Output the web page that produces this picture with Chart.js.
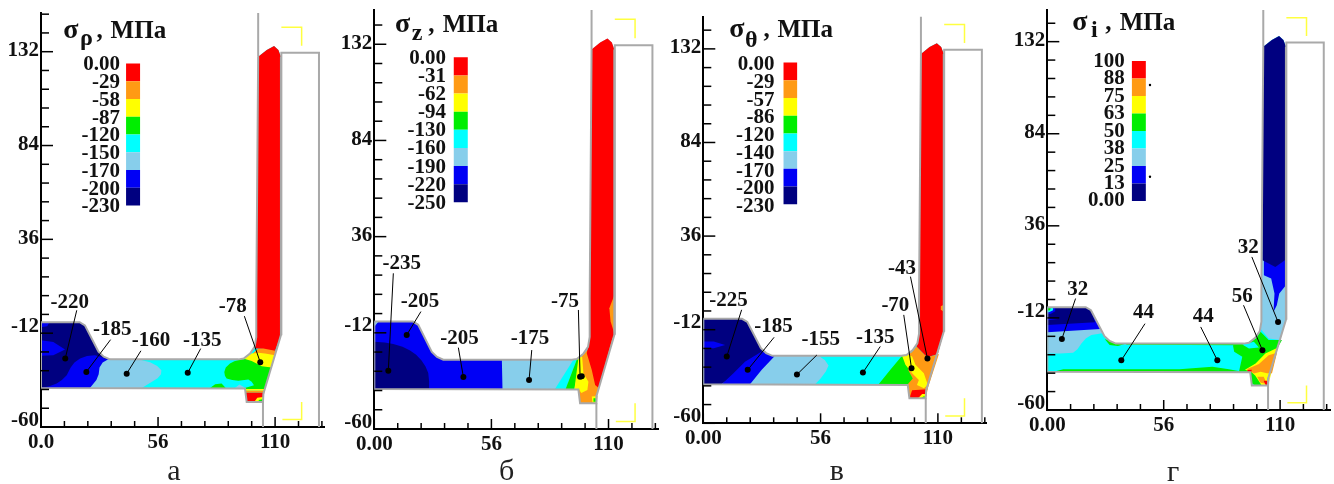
<!DOCTYPE html>
<html><head><meta charset="utf-8">
<script src="https://cdn.jsdelivr.net/npm/chart.js@4"></script>
<style>html,body{margin:0;background:#fff;width:1334px;height:484px;overflow:hidden}canvas{position:absolute;top:0}</style>
</head><body>
<canvas id="a"></canvas><canvas id="b"></canvas><canvas id="c"></canvas><canvas id="d"></canvas>
<script>
const RED='#ff0000',ORG='#ff9a14',YEL='#ffff00',GRN='#00ee00',CYN='#00ffff',LBL='#87ceeb',BLU='#0000f5',NVY='#000080',GRY='#a9a9a9',BRK='#ffff40';
const barColors=[RED,ORG,YEL,GRN,CYN,LBL,BLU,NVY];

const xTickVals=[0,11.2,22.4,33.6,44.8,56,67.2,78.4,89.6,100.8,112,123.2,134.4];
const xMajor=[0,56,112];
const yTickVals=[-60,-50.4,-40.8,-31.2,-21.6,-12,-2.4,7.2,16.8,26.4,36,45.6,55.2,64.8,74.4,84,93.6,103.2,112.8,122.4,132,141.6,151.2];
const yMajor=[-60,-12,36,84,132];

// shared geometry of the part, die and punch (data units)
const outline=[[0,-6.4],[18.5,-6.4],[21,-8],[27.5,-21.5],[30,-24],[33,-25.4],[94.5,-25.4],[97,-25],[100,-22.4],[102.2,-19],[103,-14],[103,5],[103.9,129.4],[108,132.9],[111.5,134.9],[113.6,132.9],[114.8,129.4],[114.8,-13],[106.4,-43],[106.2,-47.2],[98.4,-47.2],[97.6,-40.3],[0,-40],[0,-6.4]];
const outlineOpen=[...outline.slice(16),...outline.slice(1,13)];
const die=[[115,-13],[115,131.5],[133,131.5],[133,-60]];
const lineTop=[[103.9,129.4],[103.9,152]];
const lineLow=[[106.2,-47.2],[106.2,-60]];
const bracketTop=[[115,144.5],[124.7,144.5],[124.7,135]];
const bracketLow=[[124.7,-47.2],[124.7,-56.2],[115.5,-56.2]];
const leftTop=[[0,-6.4],[18.5,-6.4],[21,-8],[27.5,-21.5],[30,-24],[33,-25.4]];
const wall=[[114.8,-13],[114.8,129.4],[113.6,132.9],[111.5,134.9],[108,132.9],[103.9,129.4],[103,5],[103,-14],[102.2,-19]];

// ---- panel a
const labelsA=['0.00','-29','-58','-87','-120','-150','-170','-200','-230'];
const regionsA=[
[CYN,outline],
[LBL,[...leftTop,[42.6,-25.4],[48,-25.7],[52.2,-26.9],[55.6,-28.8],[57.6,-31],[57.4,-33],[55.8,-35],[52.5,-37.2],[48.2,-40],[0,-40]]],
[BLU,[...leftTop,[32.2,-25.4],[29.5,-27],[28,-29.5],[27.6,-33],[26.5,-36],[23.4,-40],[0,-40]]],
[NVY,[...leftTop,[30.6,-25],[28.5,-24],[25.8,-23.3],[22,-23.7],[18.7,-25],[16,-27],[14.2,-29.5],[12.3,-33.5],[10,-36],[7.5,-37.8],[4,-39.2],[0,-40]]],
[BLU,[[0,-15.6],[5.9,-16.5],[11.5,-20.4],[5.9,-23.3],[0,-23.5]]],
[BLU,[[0,-6.4],[4,-6.4],[3,-8.5],[0,-9]]],
[GRN,[[96,-25.3],[92.5,-26.3],[90.4,-27.5],[88.4,-29.5],[87.7,-31.8],[88,-33.8],[88.8,-35.2],[91.5,-36],[94.4,-36.4],[99.2,-35.7],[100.8,-36.8],[101.9,-38.6],[97.6,-40],[98.4,-40.7],[107,-40.7],[112.4,-21.6]]],
[LBL,[[92.8,-40],[94.9,-38.3],[97.1,-39.5],[97.3,-40]]],
[GRN,[[80.9,-40],[83.3,-38.1],[86.4,-37.8],[88.4,-40]]],
[YEL,[[96.8,-25],[100.8,-22.4],[104.8,-21.2],[112.3,-21.2],[110.4,-29.6],[105.6,-28.9],[100.8,-26.2]]],
[ORG,[[101.3,-22.4],[104,-19.9],[108,-19.5],[112.4,-21],[112,-23.3],[107.2,-22.4],[104,-22]]],
[RED,[...wall,[102.7,-19.9],[106.4,-19.9],[112,-21]]],
[YEL,[[97.7,-40.5],[107.2,-40.5],[107,-41.4],[97.8,-41.4]]],
[ORG,[[97.8,-41.4],[107,-41.4],[106.8,-42.5],[97.9,-42.5]]],
[RED,[[98.4,-47.2],[97.9,-42.5],[106.8,-42.5],[106.2,-47.2]]],
[YEL,[[102,-47.2],[103.5,-45],[106.2,-44.6],[106.2,-47.2]]],
[GRN,[[103.5,-47.2],[104.5,-46],[106.2,-45.8],[106.2,-47.2]]]
];
const notesA=[['-220',13.7,3.5],['-185',34.1,-10],['-160',52.6,-16],['-135',77.2,-15.6],['-78',91.7,1.5]];
const leadersA=[[17.1,-0.3,11.6,-25],[33.3,-15.3,21.7,-31.8],[47.8,-21,41,-32.7],[76.4,-19.9,70.2,-32.3],[97.3,-3.3,104.9,-26.9]];

// ---- panel b
const labelsB=['0.00','-31','-62','-94','-130','-160','-190','-220','-250'];
const regionsB=[
[LBL,outline],
[BLU,[...leftTop,[61,-25.4],[61.3,-40],[0,-40]]],
[NVY,[[0,-16.4],[5,-16.8],[9.1,-17.6],[13.5,-19],[17.1,-20.8],[20,-23],[22.6,-25.8],[24.5,-28.8],[25.8,-32],[26.2,-36],[26.2,-40],[0,-40]]],
[LBL,[[0,-6.4],[2,-6.4],[0,-9]]],
[CYN,[[95.2,-25.4],[86.4,-40],[91.5,-40],[96.8,-25.4]]],
[GRN,[[91.5,-40],[95.7,-40],[98.7,-24.7],[96.8,-25.4]]],
[ORG,[[99,-24],[101.6,-21],[114.8,-13],[106.4,-43],[106.2,-47.2],[98.4,-47.2],[97.7,-40]]],
[YEL,[[95.7,-40],[97.7,-24],[99.4,-23.9],[100,-32.2],[102.4,-36.4],[101.9,-40.5],[99,-42],[97.7,-40]]],
[YEL,[[104,-43.8],[106.7,-43.5],[106.3,-47.2],[104.3,-46.8]]],
[GRN,[[104.8,-44.7],[106,-44.7],[106,-46.4],[104.8,-46.4]]],
[RED,[...wall,[101.6,-22.2],[104,-30.5],[105.6,-38],[107.3,-39.5],[113.8,-15]]],
[ORG,[[114.8,6.9],[112.4,0.2],[113,-6.4],[114.8,-12.3]]]
];
const notesB=[['-235',13.1,22.7],['-205',21.9,3.5],['-205',40.7,-14.8],['-175',74.5,-14.8],['-75',91.2,3.5]];
const leadersB=[[9.1,17.7,6.7,-30.9],[22.3,-1.4,15.5,-13.1],[40.2,-19.4,42.6,-34.1],[75.3,-20.6,74,-35.6],[97.6,-0.6,98.4,-33.9],[98.4,-33.9,99.2,-33.7]];

// ---- panel c
const labelsC=['0.00','-29','-57','-86','-120','-140','-170','-200','-230'];
const regionsC=[
[CYN,outline],
[LBL,[...leftTop,[55,-25.4],[58,-27.5],[59.8,-30.4],[58.5,-33.5],[56,-37],[53.4,-40],[0,-40]]],
[NVY,[...leftTop,[28,-23.5],[8.8,-40],[0,-40]]],
[BLU,[[8.8,-40],[14.4,-34.3],[19.9,-28.4],[27.9,-23.2],[30,-24],[34,-25.6],[27.9,-32.6],[22.3,-40]]],
[BLU,[[0,-18.1],[5,-18],[10.4,-19.8],[5,-21.5],[0,-21.5]]],
[ORG,[[96.5,-25],[99.5,-23.6],[101.8,-20.6],[106.9,-26.1],[112.5,-24.4],[107.2,-42],[106.2,-47.2],[98.4,-47.2],[97.6,-40]]],
[GRN,[[94.9,-25.4],[89.3,-32.6],[83.7,-40],[97.6,-40],[100,-37],[98,-33],[96.8,-25.4]]],
[YEL,[[94.9,-25.3],[97.3,-24.6],[99.7,-25.8],[101.3,-30],[105.3,-34.3],[107.2,-40.3],[105.3,-42],[102,-40.3],[102.9,-37.8],[99.7,-34.3],[96.5,-30]]],
[RED,[...wall,[101.8,-20.6],[106.9,-26.1],[112,-24.4]]],
[ORG,[[114.8,0.8],[113.4,0],[113.4,-1.8],[114.8,-2.8]]],
[RED,[[98.4,-47.2],[99.7,-43],[106.9,-42.5],[106.2,-47.2]]],
[YEL,[[102.5,-47.2],[104.5,-45],[106.5,-45],[106.2,-47.2]]],
[GRN,[[104,-47.2],[105,-46.2],[106.3,-46.2],[106.2,-47.2]]]
];
const notesC=[['-225',12,2.8],['-185',33.5,-10.4],['-155',56.1,-17.2],['-135',82.1,-16],['-70',91.7,0.4],['-43',94.9,19.5]];
const leadersC=[[18.3,-1.8,11.2,-25.8],[33.8,-15.9,21.2,-32.6],[54.2,-25,44.7,-35],[84.5,-20.6,76.2,-34],[95.7,-4.4,99.4,-31.8],[98.9,15.2,107,-26.8]];

// ---- panel d
const labelsD=['100','88','75','63','50','38','25','13','0.00'];
const regionsD=[
[CYN,outline],
[LBL,[...leftTop.slice(0,5),[26.5,-20],[21.2,-20.9],[18.5,-22.7],[16.4,-25.3],[14.5,-28.3],[12.4,-30.1],[6,-30.5],[0,-30.5]]],
[BLU,[[0,-6.4],[18.5,-6.4],[21,-8],[25.5,-17.8],[0,-19.5]]],
[NVY,[[0,-6.4],[18.5,-6.4],[21,-8],[23,-14.3],[0,-15.7]]],
[BLU,[[0,-12],[6,-12.5],[0,-13.2]]],
[BLU,[[0,-6.4],[3.8,-6.4],[3.8,-8.5],[1.5,-10],[0,-10]]],
[CYN,[[0,-6.4],[2.8,-6.4],[2.8,-8],[0.8,-9],[0,-9]]],
[GRN,[[0,-6.6],[1.6,-6.6],[1.4,-8],[0,-8.2]]],
[GRN,[[2.9,-40],[7.7,-38.8],[39.5,-38.7],[63.5,-38.7],[79.4,-37.5],[87.4,-38.8],[93.8,-40]]],
[GRN,[[27.6,-23],[30,-26.1],[34,-26.7],[38,-25.4],[33,-25.4]]],
[GRN,[[38,-25.4],[95,-25.4],[95,-26.2],[38,-26]]],
[GRN,[[89.3,-26.2],[89.9,-29.6],[93.8,-32.2],[92.2,-40],[97.7,-40],[98.4,-47.2],[106.2,-47.2],[106.4,-43],[110.6,-27.9],[112.9,-23.5],[106.5,-23.5],[102.6,-19.2],[100.2,-22.7],[95.4,-25.4]]],
[CYN,[[93.8,-25.8],[99.4,-24.4],[101.8,-27.4],[97,-27.9]]],
[YEL,[[95.1,-39],[100.2,-35.7],[104.9,-30.5],[111,-27.4],[106.3,-47],[103,-47],[100,-42],[98,-40]]],
[ORG,[[96,-38.8],[101.8,-36],[106.5,-31.4],[110.5,-30.1],[108.1,-40.9],[105.7,-40.9],[102.6,-40],[99.4,-41]]],
[ORG,[[101,-42.7],[104.1,-42.7],[105.7,-46.5],[102.6,-45.8]]],
[RED,[[96.2,-39.2],[98.4,-39],[98,-40.4],[96.5,-40.4]]],
[RED,[[104.1,-44.8],[106.2,-44.8],[106.2,-47],[105,-47]]],
[GRN,[[98.4,-47.2],[98.2,-44],[100,-44],[103,-47.2]]],
[CYN,[[98.4,-47.2],[98.4,-46],[100,-47.2]]],
[LBL,[...wall,[102.9,-18],[106.5,-22.7],[112.1,-23.5]]],
[BLU,[[104.2,18.1],[104.2,10.3],[107.7,8.5],[109.3,0.7],[108.8,-8.9],[110.4,-5.4],[111.6,0.7],[114.8,5],[114.8,18.4]]],
[NVY,[[114.8,18.4],[114.8,129.4],[113.6,132.9],[111.5,134.9],[108,132.9],[103.9,129.4],[103.5,18.1],[109.7,14.6]]]
];
const notesD=[['32',14.7,2.8],['44',46.3,-9.4],['44',75,-11.5],['56',93.8,-0.7],['32',96.7,24.5]];
const leadersD=[[13.6,-1.9,7,-23],[47,-15,35.6,-34.1],[73.8,-16.7,81.8,-34.1],[94.4,-5.4,103.5,-28.9],[98.4,19.8,111,-14.1]];

const panels=[
{id:'a',offset:0,w:340,left:41,bottom:427,top:13,right:324,yMax:151.8,xMax:135.4,x0Label:'0.0',
 regions:regionsA,notes:notesA,leaders:leadersA,labels:labelsA,
 bar:[40.7,47.4,126,53.3],barText:[37.8,125.2,9.08],
 title:[['σ',10.7,138.8],['ρ',18.7,135.4],[',',26.6,138.8],['МПа',33.3,138.8]],letter:['а',63.6,-87.3]},
{id:'b',offset:340,w:330,left:34.3,bottom:429,top:10,right:318.7,yMax:149.1,xMax:136,x0Label:'0.00',
 regions:regionsB,notes:notesB,leaders:leadersB,labels:labelsB,
 bar:[38,44.7,125.5,53.1],barText:[34.3,125,9.05],
 title:[['σ',9.9,138],['z',17.9,134.2],[',',25.8,138],['МПа',32.7,138]],letter:['б',63.3,-85.5]},
{id:'c',offset:670,w:334,left:33.3,bottom:423.3,top:16.7,right:316.7,yMax:148.5,xMax:135.3,x0Label:'0.00',
 regions:regionsC,notes:notesC,leaders:leadersC,labels:labelsC,
 bar:[38.3,44.8,125,52.3],barText:[34,123.8,9.08],
 title:[['σ',12.4,138.3],['θ',19.9,133.2],[',',28.7,138.3],['МПа',35.4,138.3]],letter:['в',63.8,-89]},
{id:'d',offset:1004,w:330,left:43.3,bottom:410,top:10,right:327.7,yMax:148.5,xMax:136,x0Label:'0.00',
 regions:regionsD,notes:notesD,leaders:leadersD,labels:labelsD,
 bar:[40.7,47.4,121.9,48.9],barText:[37.2,121.6,9.08],dots:[[49.4,109.4],[49.4,61.6]],
 title:[['σ',12,138],['i',21,134.3],[',',27.9,138],['МПа',34.8,138]],letter:['г',60.6,-96.9]}
];

const SERIF='"Liberation Serif"';
const INK='#111';

function pts(a){return a.map(p=>({x:p[0],y:p[1]}));}
function fillSet(color,a){return {data:pts(a),showLine:true,fill:'shape',backgroundColor:color,borderColor:color,borderWidth:0,pointRadius:0};}
function strokeSet(color,a,w){return {data:pts(a),showLine:true,fill:false,borderColor:color,borderWidth:w,pointRadius:0,backgroundColor:color};}

const marksPlugin={
 id:'marks',
 afterDraw(chart){
  const p=chart.options.plugins.marks.panel, c=chart.ctx, sx=chart.scales.x, sy=chart.scales.y;
  c.save();
  c.strokeStyle='#000';c.lineWidth=1.5;
  sy.ticks.forEach(t=>{const y=sy.getPixelForValue(t.value),l=yMajor.includes(t.value)?12:8;
   c.beginPath();c.moveTo(sx.left,y);c.lineTo(sx.left+l,y);c.stroke();});
  sx.ticks.forEach(t=>{const x=sx.getPixelForValue(t.value),l=xMajor.includes(t.value)?10:6;
   c.beginPath();c.moveTo(x,sy.bottom);c.lineTo(x,sy.bottom-l);c.stroke();});
  c.fillStyle=INK;c.textBaseline='middle';
  c.font='bold 21px '+SERIF;c.textAlign='center';
  p.notes.forEach(n=>c.fillText(n[0],sx.getPixelForValue(n[1]),sy.getPixelForValue(n[2])));
  c.textAlign='right';
  p.labels.forEach((t,i)=>c.fillText(t,sx.getPixelForValue(p.barText[0]),sy.getPixelForValue(p.barText[1]-i*p.barText[2])));
  c.textAlign='left';c.textBaseline='alphabetic';
  const f=['bold 28px '+SERIF,'bold 24px '+SERIF,'bold 25px '+SERIF,'bold 25px '+SERIF];
  p.title.forEach((t,i)=>{c.font=f[i];c.fillText(t[0],sx.getPixelForValue(t[1]),sy.getPixelForValue(t[2]));});
  c.textAlign='center';c.font='30px '+SERIF;c.fillStyle='#222';
  c.fillText(p.letter[0],sx.getPixelForValue(p.letter[1]),sy.getPixelForValue(p.letter[2]));
  c.restore();
 }
};

panels.forEach(p=>{
 const cv=document.getElementById(p.id);
 const H=484;
 cv.width=p.w;cv.height=H;
 cv.style.left=p.offset+'px';
 const ds=[];
 p.regions.forEach(r=>ds.push(fillSet(r[0],r[1])));
 const [bx0,bx1,bt,bb]=p.bar, step=(bt-bb)/barColors.length;
 barColors.forEach((col,i)=>{const y1=bt-i*step,y2=bt-(i+1)*step;ds.push(fillSet(col,[[bx0,y1],[bx1,y1],[bx1,y2],[bx0,y2]]));});
 ds.push(strokeSet(GRY,outlineOpen,2),strokeSet(GRY,die,2),strokeSet(GRY,lineTop,2),strokeSet(GRY,lineLow,2),strokeSet(BRK,bracketTop,1.5),strokeSet(BRK,bracketLow,1.5));
 p.leaders.forEach(l=>ds.push({data:[{x:l[0],y:l[1]},{x:l[2],y:l[3]}],showLine:true,fill:false,borderColor:'#000',borderWidth:1,backgroundColor:'#000',pointBackgroundColor:'#000',pointBorderWidth:0,pointRadius:[0,3]}));
 if(p.dots)ds.push({data:pts(p.dots),showLine:false,pointRadius:1.2,pointBorderWidth:0,backgroundColor:'#000',pointBackgroundColor:'#000'});
 ds.forEach((d,i)=>{d.order=ds.length-i;});
 new Chart(cv,{type:'scatter',data:{datasets:ds},plugins:[marksPlugin],options:{
  responsive:false,animation:false,events:[],devicePixelRatio:1,
  layout:{padding:{left:0,top:p.top,right:p.w-p.right,bottom:0}},
  plugins:{legend:{display:false},tooltip:{enabled:false},title:{display:false},marks:{panel:p}},
  elements:{line:{tension:0}},
  scales:{
   x:{type:'linear',min:0,max:p.xMax,
    afterBuildTicks:s=>{s.ticks=xTickVals.filter(v=>v<=p.xMax).map(v=>({value:v}));},
    afterFit:s=>{s.height=H-p.bottom;},
    grid:{display:false,drawTicks:false},border:{display:true,color:'#000',width:2},
    ticks:{autoSkip:false,maxRotation:0,padding:3,color:INK,font:{family:SERIF,weight:'bold',size:21},
     callback:v=>v===0?p.x0Label:v===56?'56':v===112?'110':''}},
   y:{type:'linear',min:-60,max:p.yMax,
    afterBuildTicks:s=>{s.ticks=yTickVals.filter(v=>v<=p.yMax).map(v=>({value:v}));},
    afterFit:s=>{s.width=p.left;},
    grid:{display:false,drawTicks:false},border:{display:true,color:'#000',width:2},
    ticks:{autoSkip:false,padding:2,labelOffset:-1,color:INK,font:{family:SERIF,weight:'bold',size:21,lineHeight:0.55},
     callback:v=>v===132?'132':v===84?'84':v===36?'36':v===-12?['-12','']:v===-60?['-60','']:''}}
  }
 }});
});
</script>
</body></html>
